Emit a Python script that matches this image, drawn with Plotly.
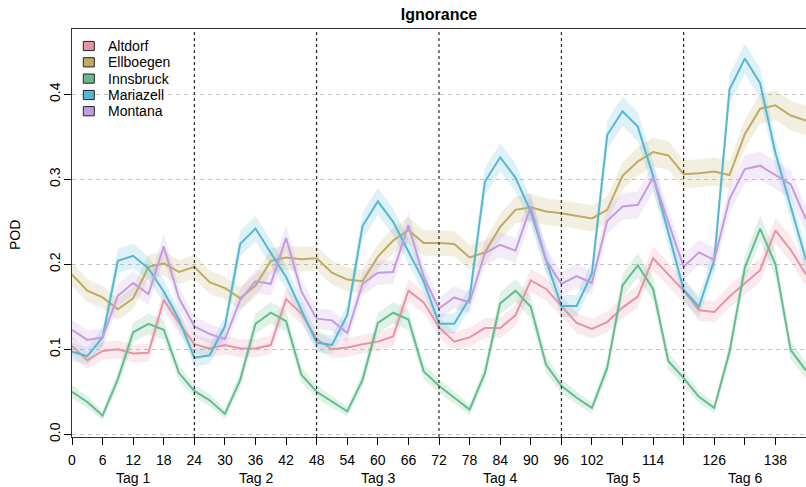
import numpy as np
import plotly.graph_objects as go

# ---------------- data ----------------
hours = list(range(0, 145, 3))
stations = ["Altdorf", "Ellboegen", "Innsbruck", "Mariazell", "Montana"]
colors = ["#E495A5", "#BDAB66", "#65BC8C", "#55B8D0", "#C29DDE"]

altdorf = [0.104, 0.087, 0.098, 0.100, 0.095, 0.096, 0.158, 0.131, 0.106,
           0.101, 0.105, 0.101, 0.101, 0.105, 0.159, 0.142, 0.112,
           0.100, 0.102, 0.106, 0.109, 0.115, 0.169, 0.155, 0.126,
           0.109, 0.114, 0.125, 0.125, 0.140, 0.181, 0.171, 0.151,
           0.131, 0.124, 0.132, 0.149, 0.162, 0.207, 0.188, 0.169,
           0.146, 0.144, 0.162, 0.177, 0.193, 0.240, 0.217, 0.188]
ellboegen = [0.188, 0.169, 0.161, 0.147, 0.160, 0.197, 0.201, 0.191, 0.197,
             0.179, 0.172, 0.160, 0.175, 0.204, 0.208, 0.206, 0.207,
             0.190, 0.182, 0.180, 0.209, 0.228, 0.240, 0.225, 0.225,
             0.224, 0.208, 0.214, 0.244, 0.264, 0.267, 0.262, 0.260,
             0.257, 0.254, 0.264, 0.304, 0.321, 0.332, 0.328, 0.306,
             0.307, 0.309, 0.305, 0.353, 0.383, 0.387, 0.375, 0.369]
innsbruck = [0.050, 0.038, 0.022, 0.065, 0.120, 0.130, 0.123, 0.072, 0.051,
             0.040, 0.024, 0.064, 0.130, 0.143, 0.133, 0.070, 0.050,
             0.038, 0.027, 0.064, 0.131, 0.143, 0.135, 0.074, 0.057,
             0.043, 0.029, 0.072, 0.154, 0.169, 0.150, 0.082, 0.057,
             0.043, 0.031, 0.078, 0.175, 0.199, 0.171, 0.086, 0.066,
             0.044, 0.031, 0.097, 0.196, 0.242, 0.200, 0.099, 0.075]
mariazell = [0.097, 0.092, 0.114, 0.204, 0.210, 0.195, 0.168, 0.135, 0.090,
             0.093, 0.127, 0.224, 0.242, 0.213, 0.185, 0.146, 0.108,
             0.105, 0.140, 0.245, 0.274, 0.250, 0.215, 0.180, 0.130,
             0.130, 0.160, 0.297, 0.326, 0.302, 0.262, 0.205, 0.151,
             0.151, 0.189, 0.352, 0.380, 0.362, 0.304, 0.236, 0.170,
             0.150, 0.205, 0.406, 0.442, 0.413, 0.331, 0.268, 0.205]
montana = [0.123, 0.111, 0.114, 0.163, 0.178, 0.165, 0.221, 0.160, 0.127,
           0.118, 0.112, 0.158, 0.180, 0.177, 0.231, 0.168, 0.136,
           0.134, 0.119, 0.177, 0.190, 0.191, 0.246, 0.185, 0.148,
           0.161, 0.155, 0.213, 0.223, 0.216, 0.268, 0.205, 0.177,
           0.186, 0.178, 0.251, 0.268, 0.270, 0.302, 0.249, 0.197,
           0.214, 0.205, 0.277, 0.312, 0.316, 0.305, 0.294, 0.253]
series = [altdorf, ellboegen, innsbruck, mariazell, montana]

# binomial confidence band (sample size estimated from band width)
n_obs = 3000
z = 1.96

xtick_vals = list(range(0, 145, 6))
xtick_text = ["0", "6", "12", "18", "24", "30", "36", "42", "48", "54", "60", "66",
              "72", "78", "84", "90", "96", "102", "", "114", "", "126", "", "138", ""]
day_pos = [12, 36, 60, 84, 108, 132]
day_labels = ["Tag 1", "Tag 2", "Tag 3", "Tag 4", "Tag 5", "Tag 6"]
day_breaks = [24, 48, 72, 96, 120]
ytick_vals = [0.0, 0.1, 0.2, 0.3, 0.4]
ytick_text = ["0.0", "0.1", "0.2", "0.3", "0.4"]

# ---------------- layout helpers ----------------
W, H = 806, 487
L, R, T, B = 72, 0, 29, 50
PW, PH = W - L - R, H - T - B
FONT = "Liberation Sans, Arial, Helvetica, sans-serif"


def px2x(px):
    return (px - L) / PW


def px2y(py):
    return (H - B - py) / PH


def rgba(hexc, a):
    h = hexc.lstrip("#")
    r, g, b = int(h[0:2], 16), int(h[2:4], 16), int(h[4:6], 16)
    return f"rgba({r},{g},{b},{a})"


fig = go.Figure()

# bands
for name, vals, col in zip(stations, series, colors):
    p = np.array(vals)
    se = np.sqrt(p * (1 - p) / n_obs)
    lo = p - z * se
    hi = p + z * se
    fig.add_trace(go.Scatter(
        x=hours + hours[::-1], y=list(hi) + list(lo[::-1]),
        fill="toself", fillcolor=rgba(col, 0.2), line=dict(width=0),
        mode="lines", hoverinfo="skip", showlegend=False))

# lines
for name, vals, col in zip(stations, series, colors):
    fig.add_trace(go.Scatter(
        x=hours, y=vals, mode="lines", name=name,
        line=dict(color=col, width=2), showlegend=False))

shapes = []
for xb in day_breaks:
    shapes.append(dict(type="line", xref="x", yref="paper", x0=xb, x1=xb, y0=0, y1=1,
                       line=dict(color="black", width=1, dash="3px,3px")))

annotations = []
for xp, lab in zip(day_pos, day_labels):
    annotations.append(dict(x=xp, y=px2y(478), xref="x", yref="paper", text=lab,
                            showarrow=False, xanchor="center", yanchor="middle",
                            font=dict(size=14, color="black", family=FONT)))
annotations.append(dict(x=px2x(15), y=px2y(235), xref="paper", yref="paper", text="POD",
                        textangle=-90, showarrow=False, xanchor="center", yanchor="middle",
                        font=dict(size=14, color="black", family=FONT)))

# legend (drawn manually, R-style)
leg_y = [46, 62.3, 78.6, 95, 111.2]
for name, col, cy in zip(stations, colors, leg_y):
    shapes.append(dict(type="rect", xref="paper", yref="paper",
                       x0=px2x(83.3), x1=px2x(94.3), y0=px2y(cy + 4.6), y1=px2y(cy - 4.6),
                       fillcolor=col, line=dict(color="#222222", width=1)))
    annotations.append(dict(x=px2x(106), y=px2y(cy), xref="paper", yref="paper", text=name,
                            showarrow=False, xanchor="left", yanchor="middle",
                            font=dict(size=14, color="black", family=FONT)))

fig.update_layout(
    width=W, height=H,
    margin=dict(l=L, r=R, t=T, b=B),
    paper_bgcolor="white", plot_bgcolor="white",
    font=dict(family=FONT, size=14, color="black"),
    title=dict(text="<b>Ignorance</b>", x=0.5, xref="paper", y=1 - 14 / H, yref="container",
               xanchor="center", yanchor="middle", font=dict(size=16, color="black", family=FONT)),
    showlegend=False,
    shapes=shapes,
    annotations=annotations,
    xaxis=dict(range=[0, 144], tickvals=xtick_vals, ticktext=xtick_text,
               ticks="outside", ticklen=7, tickcolor="black", tickwidth=1,
               ticklabelstandoff=3,
               showline=True, linecolor="#333333", linewidth=1, mirror=True,
               showgrid=False, zeroline=False, tickfont=dict(size=14)),
    yaxis=dict(range=[-0.0032, 0.4768], tickvals=ytick_vals, ticktext=ytick_text,
               tickangle=-90, ticks="outside", ticklen=7, tickcolor="black", tickwidth=1,
               ticklabelstandoff=-2,
               showline=True, linecolor="#333333", linewidth=1, mirror=False,
               showgrid=True, gridcolor="#C4C4C4", griddash="4px,4px", gridwidth=1,
               zeroline=False, tickfont=dict(size=14)),
)

fig.write_html("out.html")
